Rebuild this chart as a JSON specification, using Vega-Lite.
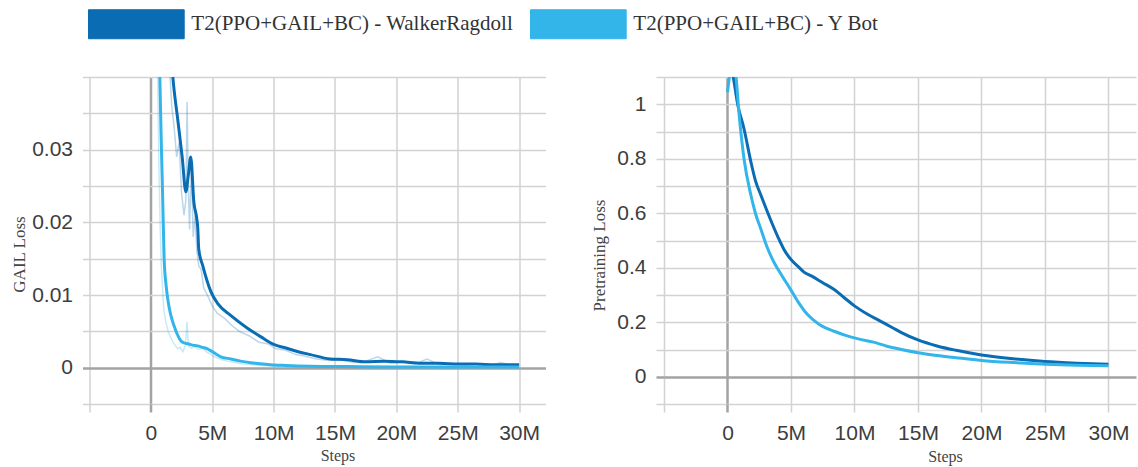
{
  "$schema": "https://vega.github.io/schema/vega-lite/v6.json",
  "background": "white",
  "autosize": {"type": "pad"},
  "padding": {"left": 10.5, "top": 9, "right": 2, "bottom": 4},
  "config": {
    "view": {"stroke": null},
    "axis": {
      "labelFont": "Liberation Sans", "labelFontSize": 21, "labelColor": "#3d3d3d",
      "titleFont": "Liberation Serif", "titleFontSize": 17, "titleFontWeight": "normal", "titleColor": "#444444",
      "domain": false, "grid": true, "labelPadding": 10, "labelOverlap": false, "labelBound": false, "labelFlush": false
    }
  },
  "datasets": {
    "gail": [
      {"series": "T2(PPO+GAIL+BC) - WalkerRagdoll", "kind": "smooth", "step": 1400000, "loss": 0.05},
      {"series": "T2(PPO+GAIL+BC) - WalkerRagdoll", "kind": "smooth", "step": 1790000, "loss": 0.04},
      {"series": "T2(PPO+GAIL+BC) - WalkerRagdoll", "kind": "smooth", "step": 2200000, "loss": 0.034},
      {"series": "T2(PPO+GAIL+BC) - WalkerRagdoll", "kind": "smooth", "step": 2550000, "loss": 0.029},
      {"series": "T2(PPO+GAIL+BC) - WalkerRagdoll", "kind": "smooth", "step": 2850000, "loss": 0.0242},
      {"series": "T2(PPO+GAIL+BC) - WalkerRagdoll", "kind": "smooth", "step": 3050000, "loss": 0.0265},
      {"series": "T2(PPO+GAIL+BC) - WalkerRagdoll", "kind": "smooth", "step": 3250000, "loss": 0.029},
      {"series": "T2(PPO+GAIL+BC) - WalkerRagdoll", "kind": "smooth", "step": 3500000, "loss": 0.0228},
      {"series": "T2(PPO+GAIL+BC) - WalkerRagdoll", "kind": "smooth", "step": 3740000, "loss": 0.0205},
      {"series": "T2(PPO+GAIL+BC) - WalkerRagdoll", "kind": "smooth", "step": 3820000, "loss": 0.0192},
      {"series": "T2(PPO+GAIL+BC) - WalkerRagdoll", "kind": "smooth", "step": 3900000, "loss": 0.0163},
      {"series": "T2(PPO+GAIL+BC) - WalkerRagdoll", "kind": "smooth", "step": 4230000, "loss": 0.014},
      {"series": "T2(PPO+GAIL+BC) - WalkerRagdoll", "kind": "smooth", "step": 4880000, "loss": 0.0105},
      {"series": "T2(PPO+GAIL+BC) - WalkerRagdoll", "kind": "smooth", "step": 5450000, "loss": 0.0088},
      {"series": "T2(PPO+GAIL+BC) - WalkerRagdoll", "kind": "smooth", "step": 6500000, "loss": 0.0072},
      {"series": "T2(PPO+GAIL+BC) - WalkerRagdoll", "kind": "smooth", "step": 7900000, "loss": 0.0054},
      {"series": "T2(PPO+GAIL+BC) - WalkerRagdoll", "kind": "smooth", "step": 9000000, "loss": 0.0042},
      {"series": "T2(PPO+GAIL+BC) - WalkerRagdoll", "kind": "smooth", "step": 10000000, "loss": 0.0032},
      {"series": "T2(PPO+GAIL+BC) - WalkerRagdoll", "kind": "smooth", "step": 11000000, "loss": 0.0027},
      {"series": "T2(PPO+GAIL+BC) - WalkerRagdoll", "kind": "smooth", "step": 12000000, "loss": 0.0022},
      {"series": "T2(PPO+GAIL+BC) - WalkerRagdoll", "kind": "smooth", "step": 13000000, "loss": 0.0018},
      {"series": "T2(PPO+GAIL+BC) - WalkerRagdoll", "kind": "smooth", "step": 14600000, "loss": 0.0012},
      {"series": "T2(PPO+GAIL+BC) - WalkerRagdoll", "kind": "smooth", "step": 16000000, "loss": 0.0011},
      {"series": "T2(PPO+GAIL+BC) - WalkerRagdoll", "kind": "smooth", "step": 17500000, "loss": 0.0008},
      {"series": "T2(PPO+GAIL+BC) - WalkerRagdoll", "kind": "smooth", "step": 19000000, "loss": 0.0009},
      {"series": "T2(PPO+GAIL+BC) - WalkerRagdoll", "kind": "smooth", "step": 20500000, "loss": 0.0008},
      {"series": "T2(PPO+GAIL+BC) - WalkerRagdoll", "kind": "smooth", "step": 22000000, "loss": 0.0006},
      {"series": "T2(PPO+GAIL+BC) - WalkerRagdoll", "kind": "smooth", "step": 23500000, "loss": 0.0006},
      {"series": "T2(PPO+GAIL+BC) - WalkerRagdoll", "kind": "smooth", "step": 25000000, "loss": 0.0005},
      {"series": "T2(PPO+GAIL+BC) - WalkerRagdoll", "kind": "smooth", "step": 26500000, "loss": 0.0005},
      {"series": "T2(PPO+GAIL+BC) - WalkerRagdoll", "kind": "smooth", "step": 28000000, "loss": 0.0004},
      {"series": "T2(PPO+GAIL+BC) - WalkerRagdoll", "kind": "smooth", "step": 30000000, "loss": 0.0004},

      {"series": "T2(PPO+GAIL+BC) - Y Bot", "kind": "smooth", "step": 550000, "loss": 0.05},
      {"series": "T2(PPO+GAIL+BC) - Y Bot", "kind": "smooth", "step": 730000, "loss": 0.04},
      {"series": "T2(PPO+GAIL+BC) - Y Bot", "kind": "smooth", "step": 820000, "loss": 0.033},
      {"series": "T2(PPO+GAIL+BC) - Y Bot", "kind": "smooth", "step": 950000, "loss": 0.0242},
      {"series": "T2(PPO+GAIL+BC) - Y Bot", "kind": "smooth", "step": 1080000, "loss": 0.015},
      {"series": "T2(PPO+GAIL+BC) - Y Bot", "kind": "smooth", "step": 1250000, "loss": 0.0112},
      {"series": "T2(PPO+GAIL+BC) - Y Bot", "kind": "smooth", "step": 1370000, "loss": 0.0095},
      {"series": "T2(PPO+GAIL+BC) - Y Bot", "kind": "smooth", "step": 1600000, "loss": 0.0074},
      {"series": "T2(PPO+GAIL+BC) - Y Bot", "kind": "smooth", "step": 1880000, "loss": 0.0058},
      {"series": "T2(PPO+GAIL+BC) - Y Bot", "kind": "smooth", "step": 2150000, "loss": 0.0046},
      {"series": "T2(PPO+GAIL+BC) - Y Bot", "kind": "smooth", "step": 2440000, "loss": 0.0037},
      {"series": "T2(PPO+GAIL+BC) - Y Bot", "kind": "smooth", "step": 2700000, "loss": 0.0034},
      {"series": "T2(PPO+GAIL+BC) - Y Bot", "kind": "smooth", "step": 3000000, "loss": 0.0033},
      {"series": "T2(PPO+GAIL+BC) - Y Bot", "kind": "smooth", "step": 3400000, "loss": 0.0031},
      {"series": "T2(PPO+GAIL+BC) - Y Bot", "kind": "smooth", "step": 3800000, "loss": 0.003},
      {"series": "T2(PPO+GAIL+BC) - Y Bot", "kind": "smooth", "step": 4200000, "loss": 0.0028},
      {"series": "T2(PPO+GAIL+BC) - Y Bot", "kind": "smooth", "step": 4600000, "loss": 0.0026},
      {"series": "T2(PPO+GAIL+BC) - Y Bot", "kind": "smooth", "step": 5100000, "loss": 0.0021},
      {"series": "T2(PPO+GAIL+BC) - Y Bot", "kind": "smooth", "step": 5700000, "loss": 0.0015},
      {"series": "T2(PPO+GAIL+BC) - Y Bot", "kind": "smooth", "step": 6500000, "loss": 0.0012},
      {"series": "T2(PPO+GAIL+BC) - Y Bot", "kind": "smooth", "step": 7300000, "loss": 0.0009},
      {"series": "T2(PPO+GAIL+BC) - Y Bot", "kind": "smooth", "step": 8500000, "loss": 0.0006},
      {"series": "T2(PPO+GAIL+BC) - Y Bot", "kind": "smooth", "step": 9750000, "loss": 0.0004},
      {"series": "T2(PPO+GAIL+BC) - Y Bot", "kind": "smooth", "step": 11000000, "loss": 0.0003},
      {"series": "T2(PPO+GAIL+BC) - Y Bot", "kind": "smooth", "step": 13000000, "loss": 0.0002},
      {"series": "T2(PPO+GAIL+BC) - Y Bot", "kind": "smooth", "step": 16000000, "loss": 0.00015},
      {"series": "T2(PPO+GAIL+BC) - Y Bot", "kind": "smooth", "step": 20000000, "loss": 0.0001},
      {"series": "T2(PPO+GAIL+BC) - Y Bot", "kind": "smooth", "step": 25000000, "loss": 0.0001},
      {"series": "T2(PPO+GAIL+BC) - Y Bot", "kind": "smooth", "step": 30000000, "loss": 0.0001},

      {"series": "T2(PPO+GAIL+BC) - WalkerRagdoll", "kind": "raw", "step": 1200000, "loss": 0.06},
      {"series": "T2(PPO+GAIL+BC) - WalkerRagdoll", "kind": "raw", "step": 1500000, "loss": 0.042},
      {"series": "T2(PPO+GAIL+BC) - WalkerRagdoll", "kind": "raw", "step": 1700000, "loss": 0.036},
      {"series": "T2(PPO+GAIL+BC) - WalkerRagdoll", "kind": "raw", "step": 1900000, "loss": 0.033},
      {"series": "T2(PPO+GAIL+BC) - WalkerRagdoll", "kind": "raw", "step": 2100000, "loss": 0.029},
      {"series": "T2(PPO+GAIL+BC) - WalkerRagdoll", "kind": "raw", "step": 2300000, "loss": 0.031},
      {"series": "T2(PPO+GAIL+BC) - WalkerRagdoll", "kind": "raw", "step": 2500000, "loss": 0.024},
      {"series": "T2(PPO+GAIL+BC) - WalkerRagdoll", "kind": "raw", "step": 2700000, "loss": 0.021},
      {"series": "T2(PPO+GAIL+BC) - WalkerRagdoll", "kind": "raw", "step": 2850000, "loss": 0.023},
      {"series": "T2(PPO+GAIL+BC) - WalkerRagdoll", "kind": "raw", "step": 2950000, "loss": 0.0366},
      {"series": "T2(PPO+GAIL+BC) - WalkerRagdoll", "kind": "raw", "step": 3050000, "loss": 0.025},
      {"series": "T2(PPO+GAIL+BC) - WalkerRagdoll", "kind": "raw", "step": 3150000, "loss": 0.019},
      {"series": "T2(PPO+GAIL+BC) - WalkerRagdoll", "kind": "raw", "step": 3300000, "loss": 0.028},
      {"series": "T2(PPO+GAIL+BC) - WalkerRagdoll", "kind": "raw", "step": 3450000, "loss": 0.018},
      {"series": "T2(PPO+GAIL+BC) - WalkerRagdoll", "kind": "raw", "step": 3600000, "loss": 0.021},
      {"series": "T2(PPO+GAIL+BC) - WalkerRagdoll", "kind": "raw", "step": 3750000, "loss": 0.016},
      {"series": "T2(PPO+GAIL+BC) - WalkerRagdoll", "kind": "raw", "step": 3900000, "loss": 0.014},
      {"series": "T2(PPO+GAIL+BC) - WalkerRagdoll", "kind": "raw", "step": 4100000, "loss": 0.0135},
      {"series": "T2(PPO+GAIL+BC) - WalkerRagdoll", "kind": "raw", "step": 4300000, "loss": 0.011},
      {"series": "T2(PPO+GAIL+BC) - WalkerRagdoll", "kind": "raw", "step": 4600000, "loss": 0.01},
      {"series": "T2(PPO+GAIL+BC) - WalkerRagdoll", "kind": "raw", "step": 5000000, "loss": 0.0085},
      {"series": "T2(PPO+GAIL+BC) - WalkerRagdoll", "kind": "raw", "step": 5400000, "loss": 0.0075},
      {"series": "T2(PPO+GAIL+BC) - WalkerRagdoll", "kind": "raw", "step": 6000000, "loss": 0.0068},
      {"series": "T2(PPO+GAIL+BC) - WalkerRagdoll", "kind": "raw", "step": 6600000, "loss": 0.0058},
      {"series": "T2(PPO+GAIL+BC) - WalkerRagdoll", "kind": "raw", "step": 7200000, "loss": 0.005},
      {"series": "T2(PPO+GAIL+BC) - WalkerRagdoll", "kind": "raw", "step": 8000000, "loss": 0.0044},
      {"series": "T2(PPO+GAIL+BC) - WalkerRagdoll", "kind": "raw", "step": 8800000, "loss": 0.0035},
      {"series": "T2(PPO+GAIL+BC) - WalkerRagdoll", "kind": "raw", "step": 9500000, "loss": 0.0033},
      {"series": "T2(PPO+GAIL+BC) - WalkerRagdoll", "kind": "raw", "step": 10200000, "loss": 0.0026},
      {"series": "T2(PPO+GAIL+BC) - WalkerRagdoll", "kind": "raw", "step": 11000000, "loss": 0.0024},
      {"series": "T2(PPO+GAIL+BC) - WalkerRagdoll", "kind": "raw", "step": 11800000, "loss": 0.0018},
      {"series": "T2(PPO+GAIL+BC) - WalkerRagdoll", "kind": "raw", "step": 12500000, "loss": 0.0016},
      {"series": "T2(PPO+GAIL+BC) - WalkerRagdoll", "kind": "raw", "step": 13500000, "loss": 0.0012},
      {"series": "T2(PPO+GAIL+BC) - WalkerRagdoll", "kind": "raw", "step": 14500000, "loss": 0.001},
      {"series": "T2(PPO+GAIL+BC) - WalkerRagdoll", "kind": "raw", "step": 15500000, "loss": 0.0011},
      {"series": "T2(PPO+GAIL+BC) - WalkerRagdoll", "kind": "raw", "step": 16500000, "loss": 0.0007},
      {"series": "T2(PPO+GAIL+BC) - WalkerRagdoll", "kind": "raw", "step": 17500000, "loss": 0.0009},
      {"series": "T2(PPO+GAIL+BC) - WalkerRagdoll", "kind": "raw", "step": 18500000, "loss": 0.0015},
      {"series": "T2(PPO+GAIL+BC) - WalkerRagdoll", "kind": "raw", "step": 19500000, "loss": 0.0006},
      {"series": "T2(PPO+GAIL+BC) - WalkerRagdoll", "kind": "raw", "step": 20500000, "loss": 0.0008},
      {"series": "T2(PPO+GAIL+BC) - WalkerRagdoll", "kind": "raw", "step": 21500000, "loss": 0.0005},
      {"series": "T2(PPO+GAIL+BC) - WalkerRagdoll", "kind": "raw", "step": 22500000, "loss": 0.0012},
      {"series": "T2(PPO+GAIL+BC) - WalkerRagdoll", "kind": "raw", "step": 23500000, "loss": 0.0004},
      {"series": "T2(PPO+GAIL+BC) - WalkerRagdoll", "kind": "raw", "step": 24500000, "loss": 0.0006},
      {"series": "T2(PPO+GAIL+BC) - WalkerRagdoll", "kind": "raw", "step": 25500000, "loss": 0.0003},
      {"series": "T2(PPO+GAIL+BC) - WalkerRagdoll", "kind": "raw", "step": 26500000, "loss": 0.0005},
      {"series": "T2(PPO+GAIL+BC) - WalkerRagdoll", "kind": "raw", "step": 27500000, "loss": 0.0002},
      {"series": "T2(PPO+GAIL+BC) - WalkerRagdoll", "kind": "raw", "step": 28500000, "loss": 0.0007},
      {"series": "T2(PPO+GAIL+BC) - WalkerRagdoll", "kind": "raw", "step": 29500000, "loss": 0.0003},
      {"series": "T2(PPO+GAIL+BC) - WalkerRagdoll", "kind": "raw", "step": 30000000, "loss": 0.0004},

      {"series": "T2(PPO+GAIL+BC) - Y Bot", "kind": "raw", "step": 400000, "loss": 0.06},
      {"series": "T2(PPO+GAIL+BC) - Y Bot", "kind": "raw", "step": 550000, "loss": 0.04},
      {"series": "T2(PPO+GAIL+BC) - Y Bot", "kind": "raw", "step": 650000, "loss": 0.028},
      {"series": "T2(PPO+GAIL+BC) - Y Bot", "kind": "raw", "step": 750000, "loss": 0.02},
      {"series": "T2(PPO+GAIL+BC) - Y Bot", "kind": "raw", "step": 850000, "loss": 0.014},
      {"series": "T2(PPO+GAIL+BC) - Y Bot", "kind": "raw", "step": 950000, "loss": 0.011},
      {"series": "T2(PPO+GAIL+BC) - Y Bot", "kind": "raw", "step": 1050000, "loss": 0.008},
      {"series": "T2(PPO+GAIL+BC) - Y Bot", "kind": "raw", "step": 1200000, "loss": 0.0065},
      {"series": "T2(PPO+GAIL+BC) - Y Bot", "kind": "raw", "step": 1400000, "loss": 0.005},
      {"series": "T2(PPO+GAIL+BC) - Y Bot", "kind": "raw", "step": 1600000, "loss": 0.0042},
      {"series": "T2(PPO+GAIL+BC) - Y Bot", "kind": "raw", "step": 1800000, "loss": 0.0035},
      {"series": "T2(PPO+GAIL+BC) - Y Bot", "kind": "raw", "step": 2000000, "loss": 0.003},
      {"series": "T2(PPO+GAIL+BC) - Y Bot", "kind": "raw", "step": 2200000, "loss": 0.0026},
      {"series": "T2(PPO+GAIL+BC) - Y Bot", "kind": "raw", "step": 2400000, "loss": 0.0028},
      {"series": "T2(PPO+GAIL+BC) - Y Bot", "kind": "raw", "step": 2600000, "loss": 0.0022},
      {"series": "T2(PPO+GAIL+BC) - Y Bot", "kind": "raw", "step": 2800000, "loss": 0.003},
      {"series": "T2(PPO+GAIL+BC) - Y Bot", "kind": "raw", "step": 2950000, "loss": 0.0063},
      {"series": "T2(PPO+GAIL+BC) - Y Bot", "kind": "raw", "step": 3050000, "loss": 0.003},
      {"series": "T2(PPO+GAIL+BC) - Y Bot", "kind": "raw", "step": 3300000, "loss": 0.0027},
      {"series": "T2(PPO+GAIL+BC) - Y Bot", "kind": "raw", "step": 3600000, "loss": 0.0029},
      {"series": "T2(PPO+GAIL+BC) - Y Bot", "kind": "raw", "step": 3900000, "loss": 0.0025},
      {"series": "T2(PPO+GAIL+BC) - Y Bot", "kind": "raw", "step": 4200000, "loss": 0.0027},
      {"series": "T2(PPO+GAIL+BC) - Y Bot", "kind": "raw", "step": 4500000, "loss": 0.0022},
      {"series": "T2(PPO+GAIL+BC) - Y Bot", "kind": "raw", "step": 4900000, "loss": 0.0018},
      {"series": "T2(PPO+GAIL+BC) - Y Bot", "kind": "raw", "step": 5300000, "loss": 0.0014},
      {"series": "T2(PPO+GAIL+BC) - Y Bot", "kind": "raw", "step": 5800000, "loss": 0.0011},
      {"series": "T2(PPO+GAIL+BC) - Y Bot", "kind": "raw", "step": 6500000, "loss": 0.0008},
      {"series": "T2(PPO+GAIL+BC) - Y Bot", "kind": "raw", "step": 7500000, "loss": 0.0005},
      {"series": "T2(PPO+GAIL+BC) - Y Bot", "kind": "raw", "step": 9000000, "loss": 0.0003},
      {"series": "T2(PPO+GAIL+BC) - Y Bot", "kind": "raw", "step": 12000000, "loss": 0.0001},
      {"series": "T2(PPO+GAIL+BC) - Y Bot", "kind": "raw", "step": 15000000, "loss": 0.0002},
      {"series": "T2(PPO+GAIL+BC) - Y Bot", "kind": "raw", "step": 18000000, "loss": 0.0},
      {"series": "T2(PPO+GAIL+BC) - Y Bot", "kind": "raw", "step": 21000000, "loss": 0.0002},
      {"series": "T2(PPO+GAIL+BC) - Y Bot", "kind": "raw", "step": 24000000, "loss": -0.0001},
      {"series": "T2(PPO+GAIL+BC) - Y Bot", "kind": "raw", "step": 27000000, "loss": 0.0001},
      {"series": "T2(PPO+GAIL+BC) - Y Bot", "kind": "raw", "step": 30000000, "loss": 0.0}
    ],
    "pre": [
      {"series": "T2(PPO+GAIL+BC) - WalkerRagdoll", "step": 200000, "loss": 1.15},
      {"series": "T2(PPO+GAIL+BC) - WalkerRagdoll", "step": 450000, "loss": 1.1},
      {"series": "T2(PPO+GAIL+BC) - WalkerRagdoll", "step": 800000, "loss": 1.0},
      {"series": "T2(PPO+GAIL+BC) - WalkerRagdoll", "step": 1300000, "loss": 0.91},
      {"series": "T2(PPO+GAIL+BC) - WalkerRagdoll", "step": 1850000, "loss": 0.787},
      {"series": "T2(PPO+GAIL+BC) - WalkerRagdoll", "step": 2200000, "loss": 0.72},
      {"series": "T2(PPO+GAIL+BC) - WalkerRagdoll", "step": 2640000, "loss": 0.665},
      {"series": "T2(PPO+GAIL+BC) - WalkerRagdoll", "step": 3100000, "loss": 0.61},
      {"series": "T2(PPO+GAIL+BC) - WalkerRagdoll", "step": 3580000, "loss": 0.555},
      {"series": "T2(PPO+GAIL+BC) - WalkerRagdoll", "step": 4000000, "loss": 0.51},
      {"series": "T2(PPO+GAIL+BC) - WalkerRagdoll", "step": 4450000, "loss": 0.467},
      {"series": "T2(PPO+GAIL+BC) - WalkerRagdoll", "step": 5000000, "loss": 0.43},
      {"series": "T2(PPO+GAIL+BC) - WalkerRagdoll", "step": 5550000, "loss": 0.405},
      {"series": "T2(PPO+GAIL+BC) - WalkerRagdoll", "step": 6000000, "loss": 0.385},
      {"series": "T2(PPO+GAIL+BC) - WalkerRagdoll", "step": 6600000, "loss": 0.37},
      {"series": "T2(PPO+GAIL+BC) - WalkerRagdoll", "step": 7500000, "loss": 0.345},
      {"series": "T2(PPO+GAIL+BC) - WalkerRagdoll", "step": 8400000, "loss": 0.32},
      {"series": "T2(PPO+GAIL+BC) - WalkerRagdoll", "step": 9200000, "loss": 0.29},
      {"series": "T2(PPO+GAIL+BC) - WalkerRagdoll", "step": 10000000, "loss": 0.26},
      {"series": "T2(PPO+GAIL+BC) - WalkerRagdoll", "step": 11000000, "loss": 0.23},
      {"series": "T2(PPO+GAIL+BC) - WalkerRagdoll", "step": 12000000, "loss": 0.205},
      {"series": "T2(PPO+GAIL+BC) - WalkerRagdoll", "step": 13000000, "loss": 0.18},
      {"series": "T2(PPO+GAIL+BC) - WalkerRagdoll", "step": 13700000, "loss": 0.162},
      {"series": "T2(PPO+GAIL+BC) - WalkerRagdoll", "step": 15000000, "loss": 0.135},
      {"series": "T2(PPO+GAIL+BC) - WalkerRagdoll", "step": 16500000, "loss": 0.113},
      {"series": "T2(PPO+GAIL+BC) - WalkerRagdoll", "step": 18000000, "loss": 0.097},
      {"series": "T2(PPO+GAIL+BC) - WalkerRagdoll", "step": 20000000, "loss": 0.08},
      {"series": "T2(PPO+GAIL+BC) - WalkerRagdoll", "step": 22500000, "loss": 0.066},
      {"series": "T2(PPO+GAIL+BC) - WalkerRagdoll", "step": 25000000, "loss": 0.056},
      {"series": "T2(PPO+GAIL+BC) - WalkerRagdoll", "step": 27500000, "loss": 0.05},
      {"series": "T2(PPO+GAIL+BC) - WalkerRagdoll", "step": 30000000, "loss": 0.046},

      {"series": "T2(PPO+GAIL+BC) - Y Bot", "step": 0, "loss": 1.044},
      {"series": "T2(PPO+GAIL+BC) - Y Bot", "step": 150000, "loss": 1.1},
      {"series": "T2(PPO+GAIL+BC) - Y Bot", "step": 300000, "loss": 1.14},
      {"series": "T2(PPO+GAIL+BC) - Y Bot", "step": 500000, "loss": 1.13},
      {"series": "T2(PPO+GAIL+BC) - Y Bot", "step": 670000, "loss": 1.1},
      {"series": "T2(PPO+GAIL+BC) - Y Bot", "step": 900000, "loss": 0.97},
      {"series": "T2(PPO+GAIL+BC) - Y Bot", "step": 1300000, "loss": 0.8},
      {"series": "T2(PPO+GAIL+BC) - Y Bot", "step": 1850000, "loss": 0.665},
      {"series": "T2(PPO+GAIL+BC) - Y Bot", "step": 2200000, "loss": 0.6},
      {"series": "T2(PPO+GAIL+BC) - Y Bot", "step": 2640000, "loss": 0.54},
      {"series": "T2(PPO+GAIL+BC) - Y Bot", "step": 3100000, "loss": 0.478},
      {"series": "T2(PPO+GAIL+BC) - Y Bot", "step": 3660000, "loss": 0.42},
      {"series": "T2(PPO+GAIL+BC) - Y Bot", "step": 4300000, "loss": 0.37},
      {"series": "T2(PPO+GAIL+BC) - Y Bot", "step": 5000000, "loss": 0.318},
      {"series": "T2(PPO+GAIL+BC) - Y Bot", "step": 5600000, "loss": 0.272},
      {"series": "T2(PPO+GAIL+BC) - Y Bot", "step": 6300000, "loss": 0.228},
      {"series": "T2(PPO+GAIL+BC) - Y Bot", "step": 7200000, "loss": 0.193},
      {"series": "T2(PPO+GAIL+BC) - Y Bot", "step": 8400000, "loss": 0.167},
      {"series": "T2(PPO+GAIL+BC) - Y Bot", "step": 9300000, "loss": 0.152},
      {"series": "T2(PPO+GAIL+BC) - Y Bot", "step": 10300000, "loss": 0.139},
      {"series": "T2(PPO+GAIL+BC) - Y Bot", "step": 11500000, "loss": 0.127},
      {"series": "T2(PPO+GAIL+BC) - Y Bot", "step": 12500000, "loss": 0.113},
      {"series": "T2(PPO+GAIL+BC) - Y Bot", "step": 13700000, "loss": 0.1},
      {"series": "T2(PPO+GAIL+BC) - Y Bot", "step": 15000000, "loss": 0.088},
      {"series": "T2(PPO+GAIL+BC) - Y Bot", "step": 16500000, "loss": 0.078},
      {"series": "T2(PPO+GAIL+BC) - Y Bot", "step": 18000000, "loss": 0.07},
      {"series": "T2(PPO+GAIL+BC) - Y Bot", "step": 20000000, "loss": 0.06},
      {"series": "T2(PPO+GAIL+BC) - Y Bot", "step": 22500000, "loss": 0.052},
      {"series": "T2(PPO+GAIL+BC) - Y Bot", "step": 25000000, "loss": 0.046},
      {"series": "T2(PPO+GAIL+BC) - Y Bot", "step": 27500000, "loss": 0.042},
      {"series": "T2(PPO+GAIL+BC) - Y Bot", "step": 30000000, "loss": 0.04}
    ]
  },
  "spacing": 44.5,
  "resolve": {"scale": {"x": "independent", "y": "independent", "color": "shared"}, "legend": {"color": "shared"}},
  "hconcat": [
    {
      "width": 456, "height": 327,
      "data": {"name": "gail"},
      "encoding": {
        "x": {"field": "step", "type": "quantitative",
          "scale": {"domain": [-5000000, 32150000], "nice": false, "zero": false},
          "axis": {"values": [-5000000, 0, 5000000, 10000000, 15000000, 20000000, 25000000, 30000000],
            "labelExpr": "datum.value < 0 ? '' : datum.value === 0 ? '0' : (datum.value / 1000000) + 'M'",
            "title": "Steps", "titleFontSize": 16, "titleX": 248, "titleY": 51, "titleBaseline": "middle",
            "tickSize": 8,
            "gridColor": {"condition": {"test": "datum.value === 0", "value": "#a3a3a3"}, "value": "#d2d2d2"},
            "gridWidth": {"condition": {"test": "datum.value === 0", "value": 2.5}, "value": 1.5},
            "tickColor": {"condition": {"test": "datum.value === 0", "value": "#a3a3a3"}, "value": "#d2d2d2"},
            "tickWidth": {"condition": {"test": "datum.value === 0", "value": 2.5}, "value": 1.5}}},
        "y": {"field": "loss", "type": "quantitative",
          "scale": {"domain": [-0.005, 0.04], "nice": false, "zero": false},
          "axis": {"values": [-0.005, 0, 0.005, 0.01, 0.015, 0.02, 0.025, 0.03, 0.035, 0.04],
            "format": "~g",
            "labelExpr": "indexof(['0','0.01','0.02','0.03'], datum.label) >= 0 ? datum.label : ''",
            "title": "GAIL Loss", "titleX": -70, "titleY": 177, "titleBaseline": "middle",
            "tickSize": 7,
            "gridColor": {"condition": {"test": "datum.value === 0", "value": "#a3a3a3"}, "value": "#d2d2d2"},
            "gridWidth": {"condition": {"test": "datum.value === 0", "value": 2.5}, "value": 1.5},
            "tickColor": {"condition": {"test": "datum.value === 0", "value": "#a3a3a3"}, "value": "#d2d2d2"},
            "tickWidth": {"condition": {"test": "datum.value === 0", "value": 2.5}, "value": 1.5}}},
        "color": {"field": "series", "type": "nominal",
          "scale": {"domain": ["T2(PPO+GAIL+BC) - WalkerRagdoll", "T2(PPO+GAIL+BC) - Y Bot"], "range": ["#0a6db3", "#33b5ea"]},
          "legend": {"orient": "none", "legendX": 31.85, "legendY": -68, "direction": "horizontal", "title": null,
            "symbolType": "M-3.3,-1H3.3V1H-3.3Z", "symbolSize": 841, "symbolStrokeWidth": 1,
            "labelFont": "Liberation Serif", "labelFontSize": 21, "labelColor": "#333333", "labelOffset": 40, "labelLimit": 600,
            "columnPadding": 15,
            "encode": {"symbols": {"update": {"fill": {"scale": "color", "field": "value"}, "fillOpacity": {"value": 1}, "opacity": {"value": 1}, "stroke": {"value": "#4f7590"}, "strokeWidth": {"value": 1}}}}}}
      },
      "layer": [
        {"transform": [{"filter": "datum.kind === 'raw'"}],
         "mark": {"type": "line", "clip": true, "strokeWidth": 1.5, "opacity": 0.28}},
        {"transform": [{"filter": "datum.kind === 'smooth'"}],
         "mark": {"type": "line", "clip": true, "strokeWidth": 3, "interpolate": "monotone"}}
      ]
    },
    {
      "width": 472, "height": 327,
      "data": {"name": "pre"},
      "mark": {"type": "line", "clip": true, "strokeWidth": 3, "interpolate": "monotone"},
      "encoding": {
        "x": {"field": "step", "type": "quantitative",
          "scale": {"domain": [-5000000, 32170000], "nice": false, "zero": false},
          "axis": {"values": [-5000000, 0, 5000000, 10000000, 15000000, 20000000, 25000000, 30000000],
            "labelExpr": "datum.value < 0 ? '' : datum.value === 0 ? '0' : (datum.value / 1000000) + 'M'",
            "title": "Steps", "titleFontSize": 16, "titleX": 281, "titleY": 52, "titleBaseline": "middle",
            "tickSize": 8,
            "gridColor": {"condition": {"test": "datum.value === 0", "value": "#a3a3a3"}, "value": "#d2d2d2"},
            "gridWidth": {"condition": {"test": "datum.value === 0", "value": 2.5}, "value": 1.5},
            "tickColor": {"condition": {"test": "datum.value === 0", "value": "#a3a3a3"}, "value": "#d2d2d2"},
            "tickWidth": {"condition": {"test": "datum.value === 0", "value": 2.5}, "value": 1.5}}},
        "y": {"field": "loss", "type": "quantitative",
          "scale": {"domain": [-0.1, 1.1], "nice": false, "zero": false},
          "axis": {"values": [-0.1, 0, 0.1, 0.2, 0.3, 0.4, 0.5, 0.6, 0.7, 0.8, 0.9, 1, 1.1],
            "format": "~g",
            "labelExpr": "indexof(['0','0.2','0.4','0.6','0.8','1'], datum.label) >= 0 ? datum.label : ''",
            "title": "Pretraining Loss", "titleX": -65, "titleY": 178, "titleBaseline": "middle",
            "tickSize": 8,
            "gridColor": {"condition": {"test": "datum.value === 0", "value": "#a3a3a3"}, "value": "#d2d2d2"},
            "gridWidth": {"condition": {"test": "datum.value === 0", "value": 2.5}, "value": 1.5},
            "tickColor": {"condition": {"test": "datum.value === 0", "value": "#a3a3a3"}, "value": "#d2d2d2"},
            "tickWidth": {"condition": {"test": "datum.value === 0", "value": 2.5}, "value": 1.5}}},
        "color": {"field": "series", "type": "nominal",
          "scale": {"domain": ["T2(PPO+GAIL+BC) - WalkerRagdoll", "T2(PPO+GAIL+BC) - Y Bot"], "range": ["#0a6db3", "#33b5ea"]},
          "legend": {"orient": "none", "legendX": 31.85, "legendY": -68, "direction": "horizontal", "title": null,
            "symbolType": "M-3.3,-1H3.3V1H-3.3Z", "symbolSize": 841, "symbolStrokeWidth": 1,
            "labelFont": "Liberation Serif", "labelFontSize": 21, "labelColor": "#333333", "labelOffset": 40, "labelLimit": 600,
            "columnPadding": 15,
            "encode": {"symbols": {"update": {"fill": {"scale": "color", "field": "value"}, "fillOpacity": {"value": 1}, "opacity": {"value": 1}, "stroke": {"value": "#4f7590"}, "strokeWidth": {"value": 1}}}}}}
      }
    }
  ]
}
